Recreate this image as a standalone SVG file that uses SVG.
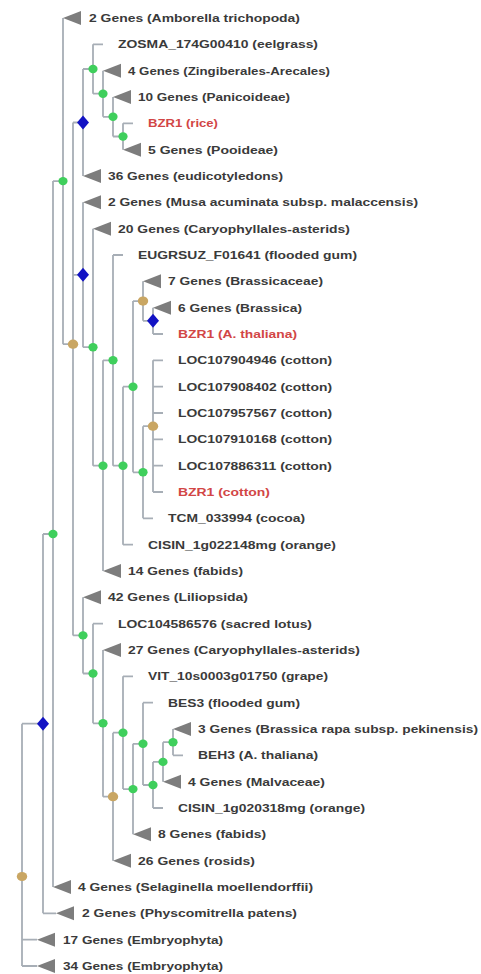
<svg xmlns="http://www.w3.org/2000/svg" width="481" height="974" viewBox="0 0 481 974">
<style>
.bg{fill:#ffffff}
.edge{fill:none;stroke:#a7aeb6;stroke-width:1.8}
.lbl{font-family:"Liberation Sans",Arial,sans-serif;font-size:11px;font-weight:bold;fill:#3a3a3a;lengthAdjust:spacingAndGlyphs}
.red{fill:#d24646}
.tri{fill:#7d7d7d}
.gn{fill:#3fcf5c}
.bn{fill:#1212c4}
.tn{fill:#c9a663}
</style>
<defs>
<path id="tri" class="tri" d="M0,0 L18,-7 L18,7 Z"/>
<ellipse id="gn" class="gn" cx="0" cy="0" rx="4.6" ry="4.2"/>
<ellipse id="tn" class="tn" cx="0" cy="0" rx="5.2" ry="4.6"/>
<path id="bn" class="bn" d="M0,-7 L6,0 L0,7 L-6,0 Z"/>
</defs>
<rect class="bg" x="0" y="0" width="481" height="974"/>

<g id="connectors" class="edge">
<path d="
M83,69H93 M93,44.3V93.7 M93,44.3H103 M93,93.7H103 M103,70.7V116.8 M103,116.8H113 M113,97V136.5 M113,136.5H123 M123,123.3V149.7 M123,123.3H133
M73,122.5H83 M83,69V176
M73,274.8H83 M83,202.3V347.2 M83,347.2H93 M93,228.7V465.7 M93,465.7H103 M103,360.3V571 M103,360.3H113 M113,255V465.7 M113,255H123
M113,465.7H123 M123,386.7V544.7 M123,544.7H133 M123,386.7H133 M133,301.1V472.3
M133,301.1H143 M143,281.3V320.8 M143,320.8H153 M153,307.7V334 M153,334H163
M133,472.3H143 M143,426.2V518.3 M143,518.3H153 M143,426.2H153 M153,360.3V492
M153,360.3H163 M153,386.7H163 M153,413H163 M153,439.3H163 M153,465.7H163 M153,492H163
M73,635.4H83 M83,597.3V673.5 M83,673.5H93 M93,623.7V723.3 M93,623.7H103 M93,723.3H103 M103,650V796.7 M103,796.7H113 M113,732.7V860.7
M113,732.7H123 M123,676.3V789.1 M123,676.3H133 M123,789.1H133 M133,743.8V834.3 M133,743.8H143 M143,702.7V785 M143,702.7H153
M143,785H153 M153,761.9V808 M153,808H163 M153,761.9H163 M163,742.2V781.7 M163,742.2H173 M173,729V755.3 M173,755.3H183
M63,344.2H73 M73,122.5V635.4
M53,181.1H63 M63,18V344.2
M43,534H53 M53,181.1V887
M22,723.7H43 M43,534V913.3 M43,913.3H56
M22,723.7V966 M22,939.7H37 M22,966H37
"/>
</g>

<g id="leaf01"><use href="#tri" x="63" y="18"/><text class="lbl" x="89" y="22" textLength="211" lengthAdjust="spacingAndGlyphs">2 Genes (Amborella trichopoda)</text></g>
<g id="leaf02"><text class="lbl" x="118" y="48.3" textLength="200" lengthAdjust="spacingAndGlyphs">ZOSMA_174G00410 (eelgrass)</text></g>
<g id="leaf03"><use href="#tri" x="103" y="70.7"/><text class="lbl" x="128" y="74.7" textLength="202" lengthAdjust="spacingAndGlyphs">4 Genes (Zingiberales-Arecales)</text></g>
<g id="leaf04"><use href="#tri" x="113" y="97"/><text class="lbl" x="138" y="101" textLength="152" lengthAdjust="spacingAndGlyphs">10 Genes (Panicoideae)</text></g>
<g id="leaf05"><text class="lbl red" x="148" y="127.3" textLength="70" lengthAdjust="spacingAndGlyphs">BZR1 (rice)</text></g>
<g id="leaf06"><use href="#tri" x="123" y="149.7"/><text class="lbl" x="148" y="153.7" textLength="130" lengthAdjust="spacingAndGlyphs">5 Genes (Pooideae)</text></g>
<g id="leaf07"><use href="#tri" x="83" y="176"/><text class="lbl" x="108" y="180" textLength="175" lengthAdjust="spacingAndGlyphs">36 Genes (eudicotyledons)</text></g>
<g id="leaf08"><use href="#tri" x="83" y="202.3"/><text class="lbl" x="108" y="206.3" textLength="310" lengthAdjust="spacingAndGlyphs">2 Genes (Musa acuminata subsp. malaccensis)</text></g>
<g id="leaf09"><use href="#tri" x="93" y="228.7"/><text class="lbl" x="118" y="232.7" textLength="232" lengthAdjust="spacingAndGlyphs">20 Genes (Caryophyllales-asterids)</text></g>
<g id="leaf10"><text class="lbl" x="138" y="259" textLength="219" lengthAdjust="spacingAndGlyphs">EUGRSUZ_F01641 (flooded gum)</text></g>
<g id="leaf11"><use href="#tri" x="143" y="281.3"/><text class="lbl" x="168" y="285.3" textLength="155" lengthAdjust="spacingAndGlyphs">7 Genes (Brassicaceae)</text></g>
<g id="leaf12"><use href="#tri" x="153" y="307.7"/><text class="lbl" x="178" y="311.7" textLength="124" lengthAdjust="spacingAndGlyphs">6 Genes (Brassica)</text></g>
<g id="leaf13"><text class="lbl red" x="178" y="338" textLength="119" lengthAdjust="spacingAndGlyphs">BZR1 (A. thaliana)</text></g>
<g id="leaf14"><text class="lbl" x="178" y="364.3" textLength="154" lengthAdjust="spacingAndGlyphs">LOC107904946 (cotton)</text></g>
<g id="leaf15"><text class="lbl" x="178" y="390.7" textLength="154" lengthAdjust="spacingAndGlyphs">LOC107908402 (cotton)</text></g>
<g id="leaf16"><text class="lbl" x="178" y="417" textLength="154" lengthAdjust="spacingAndGlyphs">LOC107957567 (cotton)</text></g>
<g id="leaf17"><text class="lbl" x="178" y="443.3" textLength="154" lengthAdjust="spacingAndGlyphs">LOC107910168 (cotton)</text></g>
<g id="leaf18"><text class="lbl" x="178" y="469.7" textLength="154" lengthAdjust="spacingAndGlyphs">LOC107886311 (cotton)</text></g>
<g id="leaf19"><text class="lbl red" x="178" y="496" textLength="92" lengthAdjust="spacingAndGlyphs">BZR1 (cotton)</text></g>
<g id="leaf20"><text class="lbl" x="168" y="522.3" textLength="137" lengthAdjust="spacingAndGlyphs">TCM_033994 (cocoa)</text></g>
<g id="leaf21"><text class="lbl" x="148" y="548.7" textLength="188" lengthAdjust="spacingAndGlyphs">CISIN_1g022148mg (orange)</text></g>
<g id="leaf22"><use href="#tri" x="103" y="571"/><text class="lbl" x="128" y="575" textLength="115" lengthAdjust="spacingAndGlyphs">14 Genes (fabids)</text></g>
<g id="leaf23"><use href="#tri" x="83" y="597.3"/><text class="lbl" x="108" y="601.3" textLength="140" lengthAdjust="spacingAndGlyphs">42 Genes (Liliopsida)</text></g>
<g id="leaf24"><text class="lbl" x="118" y="627.7" textLength="194" lengthAdjust="spacingAndGlyphs">LOC104586576 (sacred lotus)</text></g>
<g id="leaf25"><use href="#tri" x="103" y="650"/><text class="lbl" x="128" y="654" textLength="232" lengthAdjust="spacingAndGlyphs">27 Genes (Caryophyllales-asterids)</text></g>
<g id="leaf26"><text class="lbl" x="148" y="680.3" textLength="180" lengthAdjust="spacingAndGlyphs">VIT_10s0003g01750 (grape)</text></g>
<g id="leaf27"><text class="lbl" x="168" y="706.7" textLength="132" lengthAdjust="spacingAndGlyphs">BES3 (flooded gum)</text></g>
<g id="leaf28"><use href="#tri" x="173" y="729"/><text class="lbl" x="198" y="733" textLength="280" lengthAdjust="spacingAndGlyphs">3 Genes (Brassica rapa subsp. pekinensis)</text></g>
<g id="leaf29"><text class="lbl" x="198" y="759.3" textLength="120" lengthAdjust="spacingAndGlyphs">BEH3 (A. thaliana)</text></g>
<g id="leaf30"><use href="#tri" x="163" y="781.7"/><text class="lbl" x="188" y="785.7" textLength="137" lengthAdjust="spacingAndGlyphs">4 Genes (Malvaceae)</text></g>
<g id="leaf31"><text class="lbl" x="178" y="812" textLength="187" lengthAdjust="spacingAndGlyphs">CISIN_1g020318mg (orange)</text></g>
<g id="leaf32"><use href="#tri" x="133" y="834.3"/><text class="lbl" x="158" y="838.3" textLength="108" lengthAdjust="spacingAndGlyphs">8 Genes (fabids)</text></g>
<g id="leaf33"><use href="#tri" x="113" y="860.7"/><text class="lbl" x="138" y="864.7" textLength="117" lengthAdjust="spacingAndGlyphs">26 Genes (rosids)</text></g>
<g id="leaf34"><use href="#tri" x="53" y="887"/><text class="lbl" x="78" y="891" textLength="235" lengthAdjust="spacingAndGlyphs">4 Genes (Selaginella moellendorffii)</text></g>
<g id="leaf35"><use href="#tri" x="56" y="913.3"/><text class="lbl" x="82" y="917.3" textLength="215" lengthAdjust="spacingAndGlyphs">2 Genes (Physcomitrella patens)</text></g>
<g id="leaf36"><use href="#tri" x="37" y="939.7"/><text class="lbl" x="63" y="943.7" textLength="160" lengthAdjust="spacingAndGlyphs">17 Genes (Embryophyta)</text></g>
<g id="leaf37"><use href="#tri" x="37" y="966"/><text class="lbl" x="63" y="970" textLength="160" lengthAdjust="spacingAndGlyphs">34 Genes (Embryophyta)</text></g>

<g id="nodeMono1"><use href="#gn" x="93" y="69"/></g>
<g id="nodeMono2"><use href="#gn" x="103" y="93.7"/></g>
<g id="nodeMono3"><use href="#gn" x="113" y="116.8"/></g>
<g id="nodeMono4"><use href="#gn" x="123" y="136.5"/></g>
<g id="nodeA"><use href="#bn" x="83" y="122.5"/></g>
<g id="nodeJ"><use href="#bn" x="83" y="274.8"/></g>
<g id="nodeI"><use href="#gn" x="93" y="347.2"/></g>
<g id="nodeH"><use href="#gn" x="103" y="465.7"/></g>
<g id="nodeG"><use href="#gn" x="113" y="360.3"/></g>
<g id="nodeF"><use href="#gn" x="123" y="465.7"/></g>
<g id="nodeE"><use href="#gn" x="133" y="386.7"/></g>
<g id="nodeB"><use href="#tn" x="143" y="301.1"/></g>
<g id="nodeC"><use href="#bn" x="153" y="320.8"/></g>
<g id="nodeD"><use href="#gn" x="143" y="472.3"/></g>
<g id="nodeCotton"><use href="#tn" x="153" y="426.2"/></g>
<g id="nodeT"><use href="#gn" x="83" y="635.4"/></g>
<g id="nodeS"><use href="#gn" x="93" y="673.5"/></g>
<g id="nodeR"><use href="#gn" x="103" y="723.3"/></g>
<g id="nodeQ"><use href="#tn" x="113" y="796.7"/></g>
<g id="nodeP"><use href="#gn" x="123" y="732.7"/></g>
<g id="nodeO"><use href="#gn" x="133" y="789.1"/></g>
<g id="nodeN"><use href="#gn" x="143" y="743.8"/></g>
<g id="nodeM"><use href="#gn" x="153" y="785"/></g>
<g id="nodeL"><use href="#gn" x="163" y="761.9"/></g>
<g id="nodeK"><use href="#gn" x="173" y="742.2"/></g>
<g id="nodeU"><use href="#tn" x="73" y="344.2"/></g>
<g id="nodeV"><use href="#gn" x="63" y="181.1"/></g>
<g id="nodeW"><use href="#gn" x="53" y="534"/></g>
<g id="nodeX"><use href="#bn" x="43" y="723.7"/></g>
<g id="nodeRoot"><use href="#tn" x="22" y="876.5"/></g>
</svg>
